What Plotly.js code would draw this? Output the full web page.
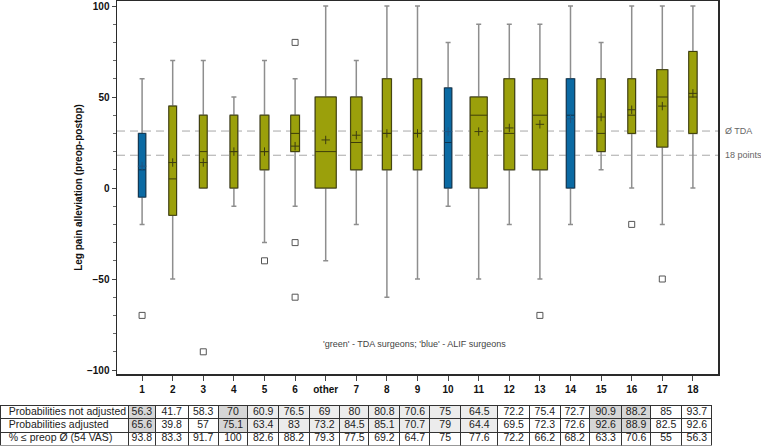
<!DOCTYPE html>
<html><head><meta charset="utf-8">
<script src="https://cdn.plot.ly/plotly-3.0.1.min.js"></script>
<style>html,body{margin:0;padding:0;background:#fff}#chart{width:761px;height:446px}</style>
</head><body><div id="chart"></div>
<script>
// ---- data ----
const categories = ['1','2','3','4','5','6','other','7','8','9','10','11','12','13','14','15','16','17','18'];
const surgeonGroup = ['ALIF','TDA','TDA','TDA','TDA','TDA','TDA','TDA','TDA','TDA','ALIF','TDA','TDA','TDA','ALIF','TDA','TDA','TDA','TDA'];
const whiskerLow  = [-20,-50,0,-10,-30,-10,-40,-20,-60,-50,-10,-50,-20,-50,-20,10,0,-20,0];
const quartile1   = [-5,-15,0,0,10,20,0,10,10,10,0,0,10,10,0,20,30,22.5,30];
const medians     = [10,5,20,20,20,30,20,25,30,30,25,40,30,40,40,30,40,50,50];
const quartile3   = [30,45,40,40,40,40,50,50,60,60,55,50,60,60,60,60,60,65,75];
const whiskerHigh = [60,70,70,50,70,60,100,70,100,100,80,90,90,90,100,80,100,100,100];
const means       = [12,14,14,20,20,23,26.4,29,30,30,31,31,33,35,38,39,43,45,52];
const outlierCats = ['1','3','5','6','6','6','13','16','17'];
const outlierVals = [-70,-90,-40,80,-30,-60,-70,-20,-50];
const refValues = [31.3, 18];
const refLabels = ['Ø TDA', '18 points'];
const rowLabels = ['Probabilities not adjusted','Probabilities adjusted','% ≤ preop Ø (54 VAS)'];
const probNotAdjusted = ['56.3','41.7','58.3','70','60.9','76.5','69','80','80.8','70.6','75','64.5','72.2','75.4','72.7','90.9','88.2','85','93.7'];
const probAdjusted    = ['65.6','39.8','57','75.1','63.4','83','73.2','84.5','85.1','70.7','79','64.4','69.5','72.3','72.6','92.6','88.9','82.5','92.6'];
const pctBelowPreop   = ['93.8','83.3','91.7','100','82.6','88.2','79.3','77.5','69.2','64.7','75','77.6','72.2','66.2','68.2','63.3','70.6','55','56.3'];
const noteText = "'green' - TDA surgeons; 'blue' - ALIF surgeons";

// ---- styles ----
const boxWidthPx = [7.3,7.7,7.7,7.7,8.7,8.7,21,11.3,9,8.3,7.3,17,10.7,15,8.3,8.3,7.7,11,8.3];
const shadeCat = ['dark','','','dark','light','light','light','light','light','light','light','light','','','','dark','dark','',''];
const tableColPx = [127.7,27.3,32.7,30.3,29.5,31.2,30.3,31,29,31,30,31,37.3,31.7,30.7,29.3,32.7,28.3,31.7,30];
const fillColor = {TDA:'#9ba00b', ALIF:'#0b6aa3'};
const edgeColor = {TDA:'#3d3d0a', ALIF:'#0d3552'};
const meanColor = {TDA:'#3d3d10', ALIF:'#1d5585'};
const W = 761, H = 446;
const plotL = 117, plotR = 718, plotT = 1, plotB = 374;
const tableTop = 405.5, tableRowH = 13.3, textLift = 6.5;
const xRange = [-0.82, 18.82];
const catPx = (plotR - plotL) / (xRange[1] - xRange[0]);
const baseFont = 'Liberation Sans, Arial, sans-serif';
const nb = s => s.replace(/ /g, '\u00a0');

const traces = [];
categories.forEach((c, i) => {
  const g = surgeonGroup[i];
  const w = boxWidthPx[i] / catPx;
  traces.push({
    type:'box', x:[c], q1:[quartile1[i]], median:[medians[i]], q3:[quartile3[i]],
    lowerfence:[whiskerLow[i]], upperfence:[whiskerHigh[i]],
    width:w, whiskerwidth:Math.min(1, 5/boxWidthPx[i]),
    line:{color:'#8e8e8e', width:1.5}, fillcolor:'rgba(0,0,0,0)',
    boxpoints:false, hoverinfo:'skip', showlegend:false
  });
  traces.push({
    type:'box', x:[c], q1:[quartile1[i]], median:[medians[i]], q3:[quartile3[i]],
    lowerfence:[quartile1[i]], upperfence:[quartile3[i]],
    width:w, whiskerwidth:0,
    line:{color:edgeColor[g], width:1}, fillcolor:fillColor[g],
    boxpoints:false, hoverinfo:'skip', showlegend:false
  });
});
traces.push({
  type:'scatter', mode:'markers', x:categories, y:means, hoverinfo:'skip', showlegend:false,
  marker:{symbol:'cross-thin', size:6, line:{width:1, color:surgeonGroup.map(g=>meanColor[g])}}
});
traces.push({
  type:'scatter', mode:'markers', x:outlierCats, y:outlierVals, hoverinfo:'skip', showlegend:false,
  marker:{symbol:'square-open', size:6, color:'#555', line:{width:1, color:'#555'}}
});

// table: one layer for grid + shading, one layer (lifted) for text
const shadeMap = {dark:'#d6d6d6', light:'#ececec', '':'#ffffff'};
const colVals = [rowLabels.slice(1).map(nb)];
const headerVals = [nb(rowLabels[0])];
const headerFill = ['#ffffff'];
const cellFill = [['#ffffff','#ffffff']];
categories.forEach((c,i)=>{
  headerVals.push(probNotAdjusted[i]);
  colVals.push([probAdjusted[i], pctBelowPreop[i]]);
  headerFill.push(shadeMap[shadeCat[i]]);
  cellFill.push([shadeMap[shadeCat[i]], '#ffffff']);
});
const aligns = ['left'].concat(categories.map(()=> 'center'));
const tblFont = {family:baseFont, size:10.5, color:'#222'};
const tblX = [0.001, 712.7/W];
const tblH = 3 * tableRowH + 0.5;
traces.push({
  type:'table',
  domain:{x:tblX, y:[1 - (tableTop + tblH)/H, 1 - tableTop/H]},
  columnwidth: tableColPx,
  header:{values:headerVals.map(()=>''), height:tableRowH, line:{color:'#333', width:1}, fill:{color:headerFill}, font:tblFont},
  cells:{values:colVals.map(col=>col.map(()=>'')), height:tableRowH, line:{color:'#333', width:1}, fill:{color:cellFill}, font:tblFont}
});
traces.push({
  type:'table',
  domain:{x:tblX, y:[0, 1 - (tableTop - textLift)/H]},
  columnwidth: tableColPx,
  header:{values:headerVals, align:aligns, height:tableRowH, line:{color:'rgba(0,0,0,0)', width:0}, fill:{color:'rgba(0,0,0,0)'}, font:tblFont},
  cells:{values:colVals, align:aligns, height:tableRowH, line:{color:'rgba(0,0,0,0)', width:0}, fill:{color:'rgba(0,0,0,0)'}, font:tblFont}
});

const shapes = refValues.map(v => ({
  type:'line', xref:'x domain', x0:0, x1:1, yref:'y', y0:v, y1:v, layer:'below',
  line:{color:'#a8a8a8', width:1, dash:'8px,5px'}
}));
const annotations = refValues.map((v,k) => ({
  xref:'x domain', x:1, xshift:5, xanchor:'left', yref:'y', y:v, yanchor:'middle',
  text:refLabels[k], showarrow:false, font:{family:baseFont, size:9, color:'#666'}
}));
annotations.push({
  xref:'x domain', x:(321-plotL)/(plotR-plotL), xanchor:'left',
  yref:'y domain', y:(plotB-344)/(plotB-plotT), yanchor:'middle',
  text:noteText, showarrow:false, font:{family:baseFont, size:9, color:'#444'}
});

const layout = {
  width:W, height:H, margin:{l:0, r:0, t:0, b:0},
  paper_bgcolor:'#fff', plot_bgcolor:'#fff', showlegend:false, boxmode:'overlay',
  xaxis:{type:'category', categoryorder:'array', categoryarray:categories, range:xRange,
    domain:[plotL/W, plotR/W], showgrid:false, zeroline:false,
    showline:true, linecolor:'#2a2a2a', linewidth:1.5, mirror:true,
    ticks:'outside', ticklen:5, tickwidth:1, tickcolor:'#444',
    tickfont:{family:baseFont, size:10, color:'#111', weight:'bold'}},
  yaxis:{range:[-102.2, 102.75], domain:[1-plotB/H, 1-plotT/H],
    tickvals:[-100,-50,0,50,100], showgrid:false, zeroline:false,
    showline:true, linecolor:'#2a2a2a', linewidth:1.5, mirror:true,
    ticks:'outside', ticklen:4, tickwidth:1, tickcolor:'#444',
    minor:{dtick:10, tick0:0, ticks:'outside', ticklen:3, tickcolor:'#666'},
    tickfont:{family:baseFont, size:10, color:'#111', weight:'bold'},
    title:{text:'Leg pain alleviation (preop-postop)', standoff:2,
      font:{family:baseFont, size:10, color:'#111', weight:'bold'}}},
  shapes:shapes, annotations:annotations
};
Plotly.newPlot('chart', traces, layout, {displayModeBar:false, staticPlot:true});
</script></body></html>
